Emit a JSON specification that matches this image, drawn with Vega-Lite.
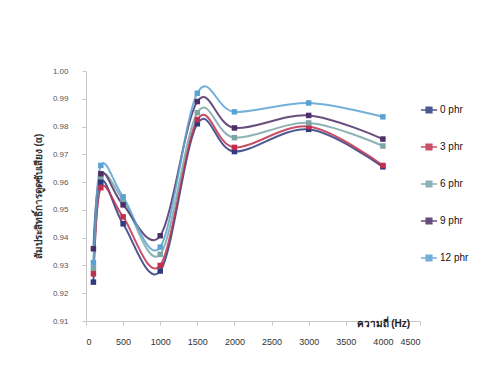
{
  "$schema": "https://vega.github.io/schema/vega-lite/v6.json",
  "autosize": "none",
  "width": 334,
  "height": 250,
  "padding": {"left": 86, "top": 71, "right": 69, "bottom": 64},
  "background": "#ffffff",
  "config": {
    "view": {"stroke": null},
    "font": "Liberation Sans"
  },
  "data": {
    "values": [
      {"freq": 100, "phr": "0 phr", "alpha": 0.924},
      {"freq": 200, "phr": "0 phr", "alpha": 0.960},
      {"freq": 500, "phr": "0 phr", "alpha": 0.945},
      {"freq": 1000, "phr": "0 phr", "alpha": 0.928},
      {"freq": 1500, "phr": "0 phr", "alpha": 0.981},
      {"freq": 2000, "phr": "0 phr", "alpha": 0.971},
      {"freq": 3000, "phr": "0 phr", "alpha": 0.979},
      {"freq": 4000, "phr": "0 phr", "alpha": 0.9655},

      {"freq": 100, "phr": "3 phr", "alpha": 0.927},
      {"freq": 200, "phr": "3 phr", "alpha": 0.958},
      {"freq": 500, "phr": "3 phr", "alpha": 0.9475},
      {"freq": 1000, "phr": "3 phr", "alpha": 0.930},
      {"freq": 1500, "phr": "3 phr", "alpha": 0.9825},
      {"freq": 2000, "phr": "3 phr", "alpha": 0.9725},
      {"freq": 3000, "phr": "3 phr", "alpha": 0.980},
      {"freq": 4000, "phr": "3 phr", "alpha": 0.966},

      {"freq": 100, "phr": "6 phr", "alpha": 0.929},
      {"freq": 200, "phr": "6 phr", "alpha": 0.962},
      {"freq": 500, "phr": "6 phr", "alpha": 0.9536},
      {"freq": 1000, "phr": "6 phr", "alpha": 0.934},
      {"freq": 1500, "phr": "6 phr", "alpha": 0.985},
      {"freq": 2000, "phr": "6 phr", "alpha": 0.976},
      {"freq": 3000, "phr": "6 phr", "alpha": 0.9813},
      {"freq": 4000, "phr": "6 phr", "alpha": 0.973},

      {"freq": 100, "phr": "9 phr", "alpha": 0.936},
      {"freq": 200, "phr": "9 phr", "alpha": 0.963},
      {"freq": 500, "phr": "9 phr", "alpha": 0.9518},
      {"freq": 1000, "phr": "9 phr", "alpha": 0.9407},
      {"freq": 1500, "phr": "9 phr", "alpha": 0.989},
      {"freq": 2000, "phr": "9 phr", "alpha": 0.9795},
      {"freq": 3000, "phr": "9 phr", "alpha": 0.984},
      {"freq": 4000, "phr": "9 phr", "alpha": 0.9755},

      {"freq": 100, "phr": "12 phr", "alpha": 0.931},
      {"freq": 200, "phr": "12 phr", "alpha": 0.966},
      {"freq": 500, "phr": "12 phr", "alpha": 0.9547},
      {"freq": 1000, "phr": "12 phr", "alpha": 0.9366},
      {"freq": 1500, "phr": "12 phr", "alpha": 0.992},
      {"freq": 2000, "phr": "12 phr", "alpha": 0.9853},
      {"freq": 3000, "phr": "12 phr", "alpha": 0.9885},
      {"freq": 4000, "phr": "12 phr", "alpha": 0.9835}
    ]
  },
  "encoding": {
    "x": {
      "field": "freq",
      "type": "quantitative",
      "scale": {"domain": [0, 4500], "nice": false, "zero": false},
      "axis": {
        "values": [0, 500, 1000, 1500, 2000, 2500, 3000, 3500, 4000, 4500],
        "format": "d",
        "grid": false,
        "domainColor": "#c8c8c8",
        "tickColor": "#c8c8c8",
        "tickSize": 4,
        "labelFontSize": 9,
        "labelColor": "#333333",
        "labelPadding": 12,
        "title": "ความถี่ (Hz)",
        "titleFontSize": 10,
        "titleFontWeight": "bold",
        "titleColor": "#222222",
        "titleAnchor": "end",
        "titleAlign": "left",
        "titleX": 270,
        "titleY": -3
      }
    },
    "y": {
      "field": "alpha",
      "type": "quantitative",
      "scale": {"domain": [0.91, 1.0], "nice": false, "zero": false},
      "axis": {
        "values": [0.91, 0.92, 0.93, 0.94, 0.95, 0.96, 0.97, 0.98, 0.99, 1.0],
        "format": ".2f",
        "grid": false,
        "domainColor": "#c8c8c8",
        "tickColor": "#c8c8c8",
        "tickSize": 4,
        "labelFontSize": 8,
        "labelColor": "#555555",
        "labelPadding": 14,
        "title": "สัมประสิทธิ์การดูดซับเสียง (α)",
        "titleFontSize": 10,
        "titleFontWeight": "bold",
        "titleColor": "#333333",
        "titlePadding": 9
      }
    }
  },
  "layer": [
    {
      "mark": {"type": "line", "interpolate": "cardinal", "strokeWidth": 2, "opacity": 0.85},
      "encoding": {
        "stroke": {
          "field": "phr",
          "type": "nominal",
          "sort": ["0 phr", "3 phr", "6 phr", "9 phr", "12 phr"],
          "scale": {
            "domain": ["0 phr", "3 phr", "6 phr", "9 phr", "12 phr"],
            "range": ["#2e3a7e", "#c0304e", "#7aa6a6", "#4d2e66", "#5ba2d2"]
          },
          "legend": {
            "orient": "none",
            "legendX": 334,
            "legendY": 30,
            "title": null,
            "labelFontSize": 10,
            "labelColor": "#111111",
            "rowPadding": 22,
            "symbolType": "M-1,0L1,0M-0.35,-0.35L0.35,-0.35L0.35,0.35L-0.35,0.35Z",
            "symbolSize": 260,
            "symbolStrokeWidth": 1.5,
            "labelOffset": 2,
            "encode": {
              "symbols": {
                "update": {
                  "fill": {"scale": "stroke", "field": "value"},
                  "fillOpacity": {"value": 1}
                }
              }
            }
          }
        }
      }
    },
    {
      "mark": {"type": "square", "size": 30, "opacity": 1, "strokeWidth": 0},
      "encoding": {
        "fill": {
          "field": "phr",
          "type": "nominal",
          "sort": ["0 phr", "3 phr", "6 phr", "9 phr", "12 phr"],
          "scale": {
            "domain": ["0 phr", "3 phr", "6 phr", "9 phr", "12 phr"],
            "range": ["#2e3a7e", "#c0304e", "#7aa6a6", "#4d2e66", "#5ba2d2"]
          },
          "legend": null
        }
      }
    }
  ]
}
